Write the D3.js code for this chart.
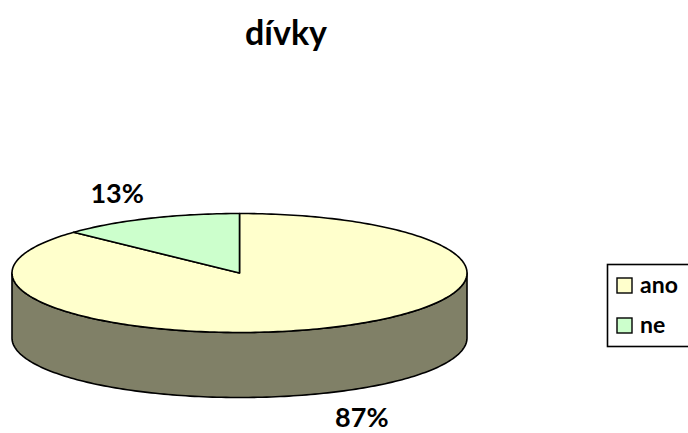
<!DOCTYPE html>
<html>
<head>
<meta charset="utf-8">
<script src="https://cdn.jsdelivr.net/npm/d3@7"></script>
<style>
  body { margin: 0; background: #fff; }
  text { font-family: Lato, "Open Sans", sans-serif; font-weight: bold; fill: #000; }
</style>
</head>
<body>
<div id="chart"></div>
<script>
// data
var title = "dívky";
var categories = ["ano", "ne"];
var values = [87, 13];
var colors = ["#FFFFCC", "#CCFFCC"];

var width = 688, height = 433;

// pie geometry (ellipse top + extruded side)
var cx = 239.5, cy = 273, rx = 227.5, ry = 59.5, depth = 65;

var svg = d3.select("#chart").append("svg")
    .attr("width", width)
    .attr("height", height);

svg.append("text")
    .attr("x", 286)
    .attr("y", 45)
    .attr("text-anchor", "middle")
    .style("font-size", "34px")
    .text(title);

var pie = d3.pie().sort(null).value(function (d) { return d; });
var arcs = pie(values);
var total = d3.sum(values);

// point on ellipse for an angle (0 = 12 o'clock, clockwise)
function px(a) { return cx + rx * Math.sin(a); }
function py(a) { return cy - ry * Math.cos(a); }

var line = d3.line();

function edge(a0, a1, dy) {
    var n = Math.max(2, Math.ceil(Math.abs(a1 - a0) / 0.02));
    return d3.range(n + 1).map(function (i) {
        var a = a0 + (a1 - a0) * i / n;
        return [px(a), py(a) + dy];
    });
}

function shade(c) {
    var k = d3.rgb(c);
    return d3.rgb(k.r * 0.5 + 0.5, k.g * 0.5 + 0.5, k.b * 0.5 + 0.5).formatHex();
}

// side walls: only the front half (pi/2 .. 3pi/2) is visible
var sides = svg.append("g").attr("class", "sides");
arcs.forEach(function (d, i) {
    var s = Math.max(d.startAngle, Math.PI / 2),
        e = Math.min(d.endAngle, 3 * Math.PI / 2);
    if (e <= s) return;
    var pts = edge(s, e, 0).concat(edge(e, s, depth));
    sides.append("path")
        .attr("d", line(pts) + "Z")
        .attr("fill", shade(colors[i]))
        .attr("stroke", "#000")
        .attr("stroke-width", 1.6)
        .attr("stroke-linejoin", "round");
});

// top faces
var tops = svg.append("g").attr("class", "tops");
arcs.forEach(function (d, i) {
    var pts = [[cx, cy]].concat(edge(d.startAngle, d.endAngle, 0));
    tops.append("path")
        .attr("d", line(pts) + "Z")
        .attr("fill", colors[i])
        .attr("stroke", "#000")
        .attr("stroke-width", 1.6)
        .attr("stroke-linejoin", "round");
});

// percentage labels outside each slice
var lrx = 308, lry = 88;
svg.append("g").selectAll("text")
    .data(arcs)
    .enter().append("text")
    .attr("text-anchor", "middle")
    .attr("dominant-baseline", "central")
    .style("font-size", "27px")
    .attr("x", function (d) {
        var m = (d.startAngle + d.endAngle) / 2;
        return cx + lrx * Math.sin(m);
    })
    .attr("y", function (d) {
        var m = (d.startAngle + d.endAngle) / 2;
        var y = cy - lry * Math.cos(m);
        return Math.cos(m) < 0 ? y + depth - 2 : y;
    })
    .text(function (d) { return Math.round(d.value / total * 100) + "%"; });

// legend
var legend = svg.append("g").attr("transform", "translate(607,264)");
legend.append("rect")
    .attr("x", 0.5).attr("y", 0.5)
    .attr("width", 100).attr("height", 82)
    .attr("fill", "#fff")
    .attr("stroke", "#000")
    .attr("stroke-width", 1.6);

var item = legend.selectAll(".item")
    .data(categories)
    .enter().append("g")
    .attr("class", "item")
    .attr("transform", function (d, i) { return "translate(10," + (14 + i * 40) + ")"; });

item.append("rect")
    .attr("width", 15).attr("height", 15)
    .attr("fill", function (d, i) { return colors[i]; })
    .attr("stroke", "#000")
    .attr("stroke-width", 1.4);

item.append("text")
    .attr("x", 23)
    .attr("y", 15)
    .style("font-size", "23px")
    .text(function (d) { return d; });
</script>
</body>
</html>
